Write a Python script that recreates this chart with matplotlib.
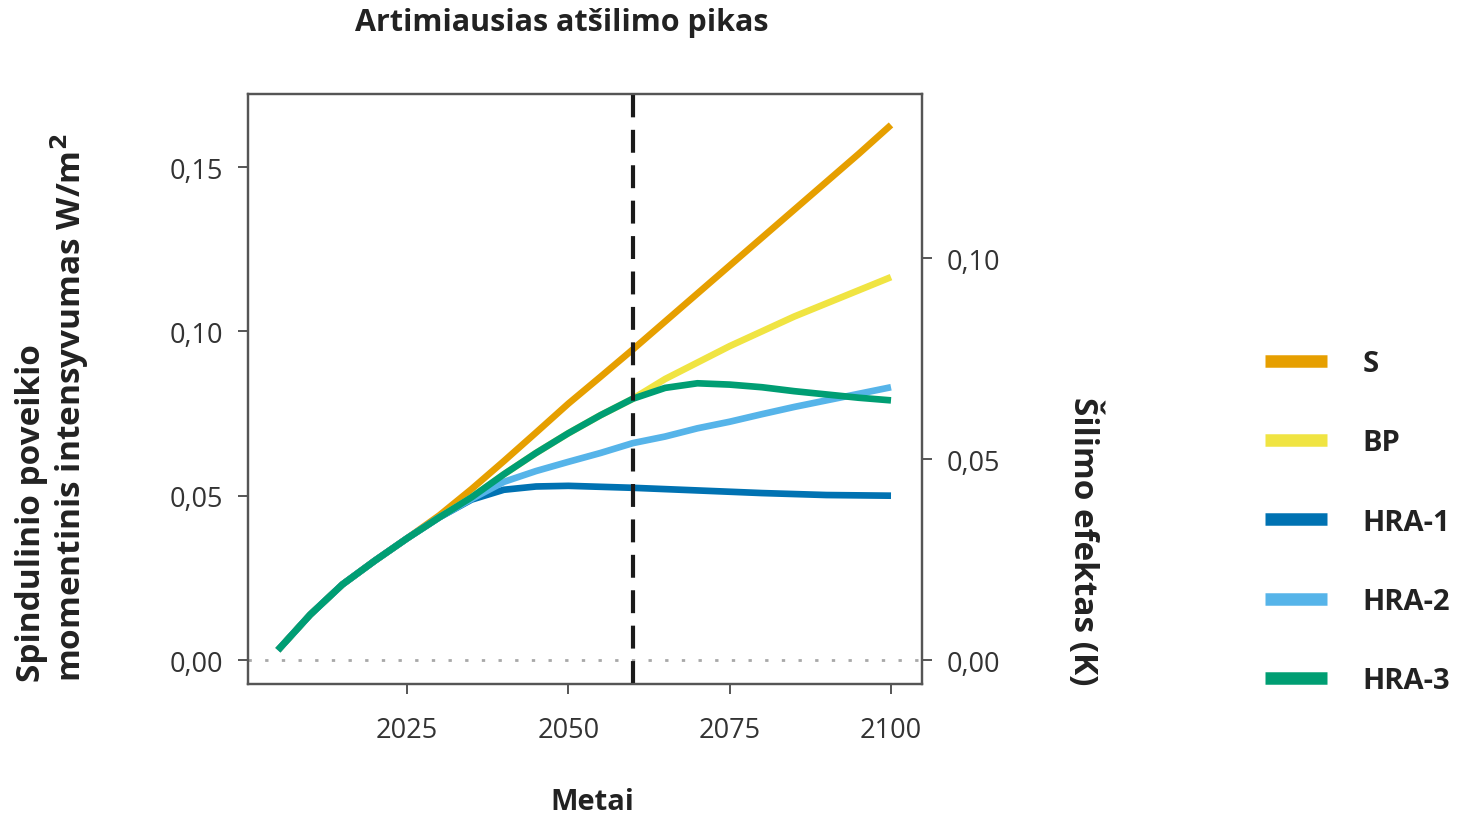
import matplotlib
matplotlib.use("Agg")
import matplotlib.pyplot as plt
from matplotlib.lines import Line2D

plt.rcParams['font.family'] = ['Open Sans', 'DejaVu Sans']

# ---- data ----
years = [2005, 2010, 2015, 2020, 2025, 2030, 2035, 2040, 2045, 2050, 2055,
         2060, 2065, 2070, 2075, 2080, 2085, 2090, 2095, 2100]
S = [0.003, 0.0138, 0.0230, 0.0302, 0.0370, 0.0440, 0.0520, 0.0605, 0.0692, 0.0780,
     0.0862, 0.0945, 0.1030, 0.1115, 0.1200, 0.1285, 0.1370, 0.1455, 0.1540, 0.1628]
BP = [0.003, 0.0138, 0.0230, 0.0302, 0.0370, 0.0434, 0.0495, 0.0565, 0.0630, 0.0690,
      0.0745, 0.0795, 0.0855, 0.0905, 0.0955, 0.1000, 0.1045, 0.1085, 0.1125, 0.1165]
HRA1 = [0.003, 0.0138, 0.0230, 0.0302, 0.0370, 0.0434, 0.0488, 0.0518, 0.0528, 0.0530,
        0.0527, 0.0524, 0.0520, 0.0516, 0.0512, 0.0508, 0.0505, 0.0502, 0.0501, 0.0500]
HRA2 = [0.003, 0.0138, 0.0230, 0.0302, 0.0370, 0.0434, 0.0490, 0.0542, 0.0575, 0.0603,
        0.0630, 0.0660, 0.0680, 0.0705, 0.0725, 0.0748, 0.0770, 0.0790, 0.0810, 0.0830]
HRA3 = [0.003, 0.0138, 0.0230, 0.0302, 0.0370, 0.0434, 0.0495, 0.0565, 0.0630, 0.0690,
        0.0745, 0.0795, 0.0828, 0.0842, 0.0838, 0.0830, 0.0818, 0.0808, 0.0798, 0.0790]
series_names = ["S", "BP", "HRA-1", "HRA-2", "HRA-3"]
series_values = [S, BP, HRA1, HRA2, HRA3]
colors = ["#E69F00", "#F0E442", "#0072B2", "#56B4E9", "#009E73"]
peak_year = 2060
x_ticks = [2025, 2050, 2075, 2100]
left_ticks = [0.00, 0.05, 0.10, 0.15]
left_labels = ["0,00", "0,05", "0,10", "0,15"]
right_ticks = [0.00, 0.05, 0.10]
right_labels = ["0,00", "0,05", "0,10"]
k_per_wm2 = 0.818  # warming (K) per W/m2 on the right axis

# ---- figure ----
fig = plt.figure(figsize=(14.63, 8.2), dpi=100)
ax = fig.add_axes([0.1695, 0.1646, 0.4607, 0.7195])

for name, vals, c in zip(series_names, series_values, colors):
    ax.plot(years, vals, color=c, lw=4.8, solid_capstyle='butt', label=name)

ax.axhline(0, color="#a8a8a8", lw=2, ls=(0, (1.2, 4.8)), zorder=0)
ax.axvline(peak_year, color="#1a1a1a", lw=3, ls=(0, (5.5, 3)), zorder=5)

ax.set_xlim(2000.36, 2104.8)
ax.set_ylim(-0.0073, 0.1722)
ax.set_xticks(x_ticks)
ax.set_xticklabels([str(t) for t in x_ticks])
ax.set_yticks(left_ticks)
ax.set_yticklabels(left_labels)

ax2 = ax.twinx()
lo, hi = ax.get_ylim()
ax2.set_ylim(lo * k_per_wm2, hi * k_per_wm2)
ax2.set_yticks(right_ticks)
ax2.set_yticklabels(right_labels)

spine_c = "#555555"
for a in (ax, ax2):
    for s in a.spines.values():
        s.set_color(spine_c)
        s.set_linewidth(1.6)
    a.tick_params(colors=spine_c, labelcolor="#333333", labelsize=19.5,
                  length=7, width=1.4, pad=11)
ax.tick_params(axis='x', pad=16)

fig.text(0.384, 0.972, "Artimiausias atšilimo pikas", ha='center', va='center',
         fontsize=22, fontweight='bold', color="#222222")
fig.text(0.405, 0.021, "Metai", ha='center', va='center',
         fontsize=21, fontweight='bold', color="#222222")
fig.text(0.036, 0.503, "Spindulinio poveikio\nmomentinis intensyvumas W/m$^\\mathbf{2}$",
         rotation=90, ha='center', va='center', multialignment='left',
         fontsize=24, fontweight='bold', color="#222222", linespacing=1.0)
fig.text(0.741, 0.34, "Šilimo efektas (K)", rotation=-90, ha='center', va='center',
         fontsize=24, fontweight='bold', color="#222222")

# legend
handles = [Line2D([], [], color=c, lw=9, solid_capstyle='butt') for c in colors]
leg = fig.legend(handles, series_names, loc='center left',
                 bbox_to_anchor=(0.8647, 0.362), frameon=False,
                 fontsize=21, handlelength=2.12, handletextpad=1.23,
                 labelspacing=1.72, borderpad=0, borderaxespad=0)
for t in leg.get_texts():
    t.set_fontweight('bold')
    t.set_color("#222222")

fig.savefig("out.png", dpi=100, facecolor="white")
